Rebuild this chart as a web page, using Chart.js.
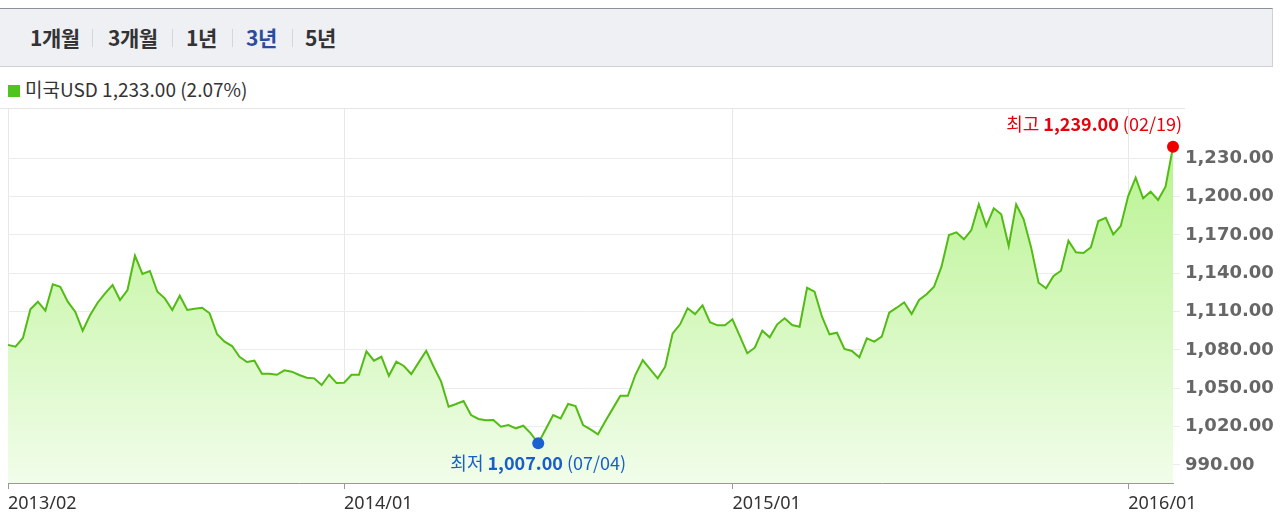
<!DOCTYPE html>
<html>
<head>
<meta charset="utf-8">
<script src="https://cdn.jsdelivr.net/npm/chart.js@4"></script>
<style>
  body { margin: 0; width: 1280px; height: 525px; overflow: hidden; background: #fff; position: relative;
         font-family: "Noto Sans CJK KR", "Noto Sans", sans-serif; }
  #tabs { position: absolute; left: 0; top: 8px; width: 1272px; height: 57px; background: #eff0f4;
          border-top: 1px solid #8c9099; border-bottom: 1px solid #cfd1d6; border-right: 1px solid #cfd1d6; }
  .tab { position: absolute; top: 0; line-height: 57px; font-size: 21px; font-weight: bold; color: #333; letter-spacing: -0.5px; }
  .tab.on { color: #2b4b9f; }
  .sep { position: absolute; top: 20px; width: 1px; height: 18px; background: #d4d6db; }
  #legend { position: absolute; left: 8px; top: 78px; height: 22px; line-height: 22px; font-size: 19px; color: #333; }
  #legend i { display: inline-block; width: 12px; height: 12px; background: #4fc41c; margin-right: 5px; vertical-align: 0px; }
  #topline { position: absolute; left: 0; top: 108px; width: 1185px; height: 1px; background: #e6e6e6; }
  #wrap { position: absolute; left: 0; top: 109px; width: 1280px; height: 416px; }
</style>
</head>
<body>
<div id="tabs"></div>
<div id="legend"><i></i><span id="legendText"></span></div>
<div id="topline"></div>
<div id="wrap"><canvas id="fxChart" width="1280" height="416"></canvas></div>
<script>
// tabs / legend
const tabNames = ['1개월', '3개월', '1년', '3년', '5년'];
const tabLeft = [30, 108, 186, 246, 305];
const sepLeft = [92, 172, 232, 292];
const activeTab = 3;
const seriesName = '미국USD';
const lastValue = '1,233.00';
const lastChange = '(2.07%)';

// weekly closes, 2013/02/22 .. 2016/02/19
const values = [
  1084.0, 1082.6, 1089.4, 1111.8, 1117.8, 1110.7, 1131.4, 1129.5, 1117.8, 1110.0,
  1095.1, 1107.4, 1117.0, 1124.3, 1130.8, 1119.1, 1126.9, 1153.8, 1139.5, 1141.8,
  1125.6, 1120.4, 1111.3, 1122.5, 1111.3, 1112.3, 1113.1, 1108.7, 1092.3, 1086.5,
  1083.1, 1074.7, 1070.6, 1071.6, 1061.4, 1061.4, 1060.6, 1064.1, 1063.0, 1060.4,
  1058.3, 1057.8, 1052.6, 1060.6, 1054.1, 1054.4, 1060.6, 1060.6, 1079.0, 1071.6,
  1074.7, 1059.8, 1070.8, 1067.5, 1061.2, 1070.3, 1079.4, 1066.9, 1055.2, 1035.6,
  1037.7, 1040.1, 1029.1, 1026.0, 1025.0, 1025.2, 1020.0, 1021.3, 1018.7, 1020.7,
  1014.8, 1007.0, 1018.0, 1029.1, 1026.5, 1037.7, 1036.1, 1021.3, 1017.9, 1014.0,
  1024.4, 1034.3, 1044.2, 1044.2, 1060.4, 1072.1, 1064.9, 1057.8, 1066.9, 1093.0,
  1100.1, 1112.6, 1108.1, 1115.0, 1101.7, 1099.3, 1099.3, 1104.0, 1090.9, 1077.4,
  1081.8, 1095.1, 1089.9, 1100.1, 1104.8, 1099.5, 1098.2, 1128.7, 1125.6, 1106.0,
  1092.3, 1093.5, 1080.8, 1079.2, 1074.3, 1089.1, 1086.5, 1090.4, 1109.2, 1113.1,
  1117.3, 1108.1, 1119.1, 1123.6, 1129.5, 1145.2, 1169.9, 1172.1, 1166.6, 1173.9,
  1194.0, 1177.0, 1190.9, 1186.2, 1161.4, 1194.0, 1182.3, 1160.3, 1132.6, 1128.3,
  1137.9, 1142.0, 1165.5, 1156.4, 1155.9, 1160.3, 1180.9, 1183.5, 1170.5, 1177.0,
  1200.5, 1214.8, 1198.7, 1203.9, 1197.4, 1207.8, 1239.0
];
const startDate = new Date(2013, 1, 22);
const labels = values.map((_, i) => {
  const d = new Date(startDate.getTime() + i * 7 * 86400000);
  return d.getFullYear() + '/' + String(d.getMonth() + 1).padStart(2, '0') + '/' + String(d.getDate()).padStart(2, '0');
});

const xTickIdx = [0, 45, 97, 150];
const xTickLabels = ['2013/02', '2014/01', '2015/01', '2016/01'];
const yTicks = [990, 1020, 1050, 1080, 1110, 1140, 1170, 1200, 1230];
const yMin = 975.9, yMax = 1268.6;

const minIdx = values.indexOf(Math.min(...values));
const maxIdx = values.indexOf(Math.max(...values));
const minDate = '07/04', maxDate = '02/19';

const tabs = document.getElementById('tabs');
tabNames.forEach((t, i) => {
  const s = document.createElement('span');
  s.className = 'tab' + (i === activeTab ? ' on' : '');
  s.style.left = tabLeft[i] + 'px';
  s.textContent = t;
  tabs.appendChild(s);
});
sepLeft.forEach(x => {
  const s = document.createElement('span');
  s.className = 'sep';
  s.style.left = x + 'px';
  tabs.appendChild(s);
});
document.getElementById('legendText').textContent = seriesName + ' ' + lastValue + ' ' + lastChange;

const fmt = v => v.toLocaleString('en-US', { minimumFractionDigits: 2, maximumFractionDigits: 2 });

// min / max annotations
const markLabels = {
  id: 'markLabels',
  afterDatasetsDraw(chart) {
    const ctx = chart.ctx;
    const meta = chart.getDatasetMeta(0);
    const size = 18;
    const draw = (idx, title, date, color, dy) => {
      const pt = meta.data[idx];
      const parts = [[title + ' ', 'normal'], [fmt(values[idx]), 'bold'], [' (' + date + ')', 'normal']];
      let w = 0;
      parts.forEach(p => { ctx.font = p[1] + ' ' + size + 'px "Noto Sans CJK KR"'; p.push(ctx.measureText(p[0]).width); w += p[2]; });
      let x = pt.x - w / 2;
      const maxRight = chart.chartArea.right + 9;
      if (x + w > maxRight) x = maxRight - w;
      ctx.save();
      ctx.fillStyle = color;
      ctx.textBaseline = 'middle';
      ctx.textAlign = 'left';
      parts.forEach(p => {
        ctx.font = p[1] + ' ' + size + 'px "Noto Sans CJK KR"';
        ctx.fillText(p[0], x, pt.y + dy);
        x += p[2];
      });
      ctx.restore();
    };
    draw(maxIdx, '최고', maxDate, '#e8000b', -23);
    draw(minIdx, '최저', minDate, '#1a5fc8', 20);
  }
};

const ctx = document.getElementById('fxChart').getContext('2d');
new Chart(ctx, {
  type: 'line',
  data: {
    labels: labels,
    datasets: [{
      data: values,
      borderColor: '#52bb14',
      borderWidth: 2,
      tension: 0,
      fill: 'start',
      backgroundColor: (c) => {
        const area = c.chart.chartArea;
        if (!area) return '#dff9cc';
        const g = c.chart.ctx.createLinearGradient(0, area.top, 0, area.bottom);
        g.addColorStop(0, '#b3f287');
        g.addColorStop(1, '#f1fdea');
        return g;
      },
      pointRadius: values.map((_, i) => (i === minIdx || i === maxIdx) ? 6 : 0),
      pointBackgroundColor: values.map((_, i) => i === minIdx ? '#1a62d0' : '#ee0000'),
      pointBorderWidth: 0,
      pointHoverRadius: 0,
      clip: false
    }]
  },
  options: {
    responsive: false,
    animation: false,
    devicePixelRatio: 1,
    events: [],
    layout: { autoPadding: false, padding: { left: 8, top: 0, right: 0, bottom: 0 } },
    plugins: { legend: { display: false }, tooltip: { enabled: false } },
    scales: {
      x: {
        type: 'category',
        offset: false,
        afterBuildTicks: (s) => { s.ticks = xTickIdx.map(v => ({ value: v })); },
        afterFit: (s) => { s.height = 42; s.paddingLeft = 0; s.paddingRight = 0; },
        grid: { color: '#e8e8e8', tickColor: '#999', tickLength: 6, drawTicks: true },
        border: { color: '#999', width: 1 },
        ticks: {
          autoSkip: false, maxRotation: 0, align: 'start', padding: 4,
          color: '#333', font: { family: '"Noto Sans"', size: 18 },
          callback: (v) => xTickLabels[xTickIdx.indexOf(v)]
        }
      },
      y: {
        position: 'right',
        min: yMin,
        max: yMax,
        afterBuildTicks: (s) => { s.ticks = yTicks.map(v => ({ value: v })); },
        afterFit: (s) => { s.width = 107; s.paddingTop = 0; s.paddingBottom = 0; },
        grid: { color: '#ececec', tickLength: 7, drawTicks: true },
        border: { display: false },
        ticks: {
          padding: 5, color: '#666',
          font: { family: '"DejaVu Sans"', size: 18, weight: 'bold' },
          callback: (v) => fmt(v)
        }
      }
    }
  },
  plugins: [markLabels]
});
</script>
</body>
</html>
